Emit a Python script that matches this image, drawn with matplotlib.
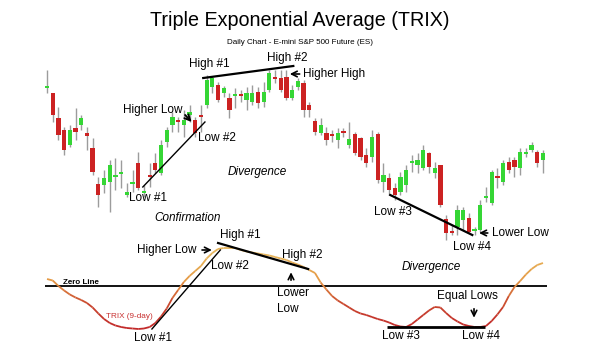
import numpy as np
import matplotlib
matplotlib.use("Agg")
import matplotlib.pyplot as plt
from matplotlib.collections import LineCollection
from matplotlib.colors import LinearSegmentedColormap

plt.rcParams['font.family'] = ['Liberation Sans', 'DejaVu Sans']

# ---------------- data ----------------
opens = [1162, 1157, 1132, 1120, 1105, 1122, 1125, 1117, 1102, 1066,
         1065, 1068, 1073, 1076, 1055, 1066, 1087, 1057, 1075, 1087,
         1077, 1108, 1125, 1130, 1125, 1135, 1130, 1135, 1145, 1163,
         1165, 1157, 1152, 1154, 1156, 1150, 1148, 1158, 1148, 1160,
         1173, 1172, 1173, 1152, 1163, 1167, 1145, 1129, 1117, 1117,
         1116, 1110, 1119, 1105, 1116, 1112, 1095, 1093, 1116, 1068,
         1072, 1062, 1058, 1065, 1087, 1085, 1082, 1097, 1077, 1085,
         1031, 1019, 1023, 1030, 1032, 1019, 1020, 1052, 1047, 1074,
         1068, 1088, 1090, 1082, 1096, 1100, 1098, 1090]
closes = [1164, 1135, 1115, 1100, 1120, 1118, 1132, 1114, 1078, 1055,
          1072, 1085, 1075, 1078, 1058, 1068, 1062, 1059, 1073, 1080,
          1105, 1120, 1133, 1128, 1130, 1138, 1117, 1133, 1170, 1172,
          1150, 1162, 1140, 1156, 1154, 1157, 1157, 1147, 1158, 1177,
          1171, 1160, 1152, 1160, 1169, 1140, 1140, 1118, 1125, 1110,
          1114, 1117, 1117, 1111, 1097, 1093, 1087, 1113, 1070, 1075,
          1060, 1055, 1073, 1080, 1089, 1090, 1100, 1083, 1082, 1045,
          1017, 1017, 1040, 1040, 1018, 1021, 1045, 1054, 1078, 1072,
          1087, 1080, 1083, 1098, 1098, 1105, 1087, 1097]
highs = [1180, 1157, 1143, 1123, 1125, 1142, 1135, 1123, 1112, 1073,
         1080, 1090, 1092, 1090, 1067, 1080, 1098, 1065, 1087, 1097,
         1110, 1123, 1138, 1133, 1140, 1145, 1133, 1145, 1175, 1174,
         1168, 1164, 1157, 1162, 1160, 1163, 1165, 1163, 1168, 1180,
         1180, 1180, 1180, 1165, 1172, 1170, 1148, 1132, 1132, 1123,
         1120, 1122, 1122, 1128, 1118, 1113, 1102, 1120, 1118, 1087,
         1077, 1067, 1078, 1085, 1095, 1097, 1105, 1098, 1088, 1085,
         1035, 1025, 1045, 1043, 1037, 1023, 1050, 1063, 1080, 1082,
         1090, 1093, 1093, 1102, 1102, 1108, 1100, 1100]
lows = [1157, 1128, 1110, 1095, 1103, 1110, 1120, 1100, 1075, 1043,
        1057, 1038, 1060, 1062, 1053, 1058, 1060, 1053, 1063, 1077,
        1075, 1103, 1118, 1118, 1113, 1128, 1113, 1118, 1142, 1157,
        1148, 1153, 1132, 1142, 1148, 1140, 1145, 1142, 1143, 1158,
        1167, 1158, 1150, 1150, 1160, 1133, 1133, 1115, 1115, 1105,
        1108, 1102, 1113, 1102, 1095, 1090, 1083, 1088, 1067, 1058,
        1055, 1050, 1055, 1058, 1078, 1077, 1080, 1077, 1072, 1043,
        1010, 1015, 1015, 1020, 1017, 1015, 1018, 1048, 1045, 1062,
        1065, 1077, 1073, 1075, 1093, 1098, 1083, 1077]
trix = [0.07, 0.055, 0.0, -0.045, -0.085, -0.115, -0.14, -0.17, -0.215, -0.275,
        -0.33, -0.37, -0.395, -0.41, -0.42, -0.425, -0.43, -0.425, -0.41, -0.37,
        -0.305, -0.225, -0.12, -0.04, 0.04, 0.10, 0.15, 0.20, 0.275, 0.33,
        0.37, 0.38, 0.38, 0.38, 0.36, 0.345, 0.335, 0.325, 0.315, 0.305,
        0.29, 0.275, 0.26, 0.235, 0.215, 0.19, 0.16, 0.13, 0.035, -0.035,
        -0.10, -0.145, -0.18, -0.215, -0.25, -0.275, -0.29, -0.31, -0.33, -0.345,
        -0.365, -0.39, -0.405, -0.41, -0.38, -0.335, -0.29, -0.245, -0.21, -0.215,
        -0.27, -0.32, -0.355, -0.385, -0.40, -0.41, -0.41, -0.40, -0.35, -0.285,
        -0.21, -0.10, -0.01, 0.05, 0.115, 0.17, 0.21, 0.23]

days = np.arange(len(opens))
o = np.array(opens); c = np.array(closes); h = np.array(highs); l = np.array(lows)
up = c >= o

GREEN = '#35d635'
RED = '#cc2222'
WICK = '#9c9c9c'

fig = plt.figure(figsize=(6.0, 3.56), dpi=100)
fig.patch.set_facecolor('white')

XLIM = (-8.25, 97.0)

# ---------------- price panel ----------------
ax = fig.add_axes([0, 0, 1, 1])
ax.set_xlim(*XLIM)
ax.set_ylim(894, 1250)
ax.axis('off')

ax.vlines(days, l, h, color=WICK, lw=1.0, zorder=1)
body_bottom = np.minimum(o, c)
body_h = np.maximum(np.abs(c - o), 1.5)
ax.bar(days, body_h, bottom=body_bottom, width=0.75,
       color=np.where(up, GREEN, RED), edgecolor='none', zorder=2)

fs = 8.5
# highs
ax.plot([27.4, 43.2], [1172, 1184], color='black', lw=1.6, zorder=3)
ax.text(28.4, 1186, 'High #1', ha='center', va='center', fontsize=fs)
ax.text(42.1, 1192, 'High #2', ha='center', va='center', fontsize=fs)
ax.annotate('', xy=(42.1, 1176), xytext=(44.8, 1176),
            arrowprops=dict(arrowstyle='->', color='black', lw=1.2))
ax.text(44.9, 1176, 'Higher High', ha='left', va='center', fontsize=fs)
# lows 1/2
ax.plot([16.8, 27.7], [1063, 1128], color='black', lw=1.0, zorder=3)
ax.text(23.7, 1140, 'Higher Low', ha='right', va='center', fontsize=fs)
ax.annotate('', xy=(25.7, 1126), xytext=(23.9, 1137),
            arrowprops=dict(arrowstyle='->', color='black', lw=1.4))
ax.text(26.5, 1112, 'Low #2', ha='left', va='center', fontsize=fs)
ax.text(17.7, 1052, 'Low #1', ha='center', va='center', fontsize=fs)
ax.text(24.7, 1032, 'Confirmation', ha='center', va='center', fontsize=fs,
        style='italic')
ax.text(36.8, 1078, 'Divergence', ha='center', va='center', fontsize=fs,
        style='italic')
# lows 3/4
ax.plot([60.2, 74.6], [1055, 1015], color='black', lw=1.6, zorder=3)
ax.text(60.7, 1038, 'Low #3', ha='center', va='center', fontsize=fs)
ax.text(74.6, 1003, 'Low #4', ha='center', va='center', fontsize=fs)
ax.annotate('', xy=(75.3, 1017), xytext=(77.8, 1017),
            arrowprops=dict(arrowstyle='->', color='black', lw=1.2))
ax.text(78.1, 1017, 'Lower Low', ha='left', va='center', fontsize=fs)

# ---------------- TRIX panel ----------------
ax2 = fig.add_axes([0, 0, 1, 1])
ax2.set_xlim(*XLIM)
ax2.set_ylim(-0.70, 2.86)
ax2.axis('off')
ax2.patch.set_alpha(0)

ax2.hlines(0, -0.35, 87.7, color='black', lw=1.3, zorder=2)

tv = np.array(trix)
pts = np.column_stack([days, tv]).reshape(-1, 1, 2)
segs = np.concatenate([pts[:-1], pts[1:]], axis=1)
cmap = LinearSegmentedColormap.from_list('trix', ['#c22a2a', '#c9472e', '#e59a45', '#e6b45a'])
lc = LineCollection(segs, cmap=cmap, norm=plt.Normalize(-0.42, 0.3), lw=1.3, zorder=3)
lc.set_array((tv[:-1] + tv[1:]) / 2)
ax2.add_collection(lc)

ax2.text(2.8, 0.04, 'Zero Line', ha='left', va='center', fontsize=5.8,
         fontweight='bold')
ax2.text(10.4, -0.30, 'TRIX (9-day)', ha='left', va='center', fontsize=5.9,
         color='#c83030')

ax2.plot([18.4, 30.4], [-0.43, 0.36], color='black', lw=1.0, zorder=4)
ax2.text(18.6, -0.52, 'Low #1', ha='center', va='center', fontsize=fs)
ax2.text(26.3, 0.36, 'Higher Low', ha='right', va='center', fontsize=fs)
ax2.annotate('', xy=(29.4, 0.36), xytext=(26.7, 0.36),
             arrowprops=dict(arrowstyle='->', color='black', lw=1.2))
ax2.plot([30.0, 45.8], [0.43, 0.17], color='black', lw=1.6, zorder=4)
ax2.text(33.9, 0.51, 'High #1', ha='center', va='center', fontsize=fs)
ax2.text(32.1, 0.20, 'Low #2', ha='center', va='center', fontsize=fs)
ax2.text(44.7, 0.31, 'High #2', ha='center', va='center', fontsize=fs)
ax2.annotate('', xy=(42.8, 0.165), xytext=(42.8, 0.03),
             arrowprops=dict(arrowstyle='->', color='black', lw=1.2))
ax2.text(40.4, -0.15, 'Lower\nLow', ha='left', va='center', fontsize=fs,
         linespacing=1.45)

ax2.text(67.4, 0.19, 'Divergence', ha='center', va='center', fontsize=fs,
         style='italic')
ax2.text(73.7, -0.10, 'Equal Lows', ha='center', va='center', fontsize=fs)
ax2.annotate('', xy=(74.9, -0.345), xytext=(74.9, -0.20),
             arrowprops=dict(arrowstyle='->', color='black', lw=1.2))
ax2.hlines(-0.41, 59.6, 76.8, color='black', lw=2.0, zorder=4)
ax2.text(62.1, -0.50, 'Low #3', ha='center', va='center', fontsize=fs)
ax2.text(76.1, -0.50, 'Low #4', ha='center', va='center', fontsize=fs)

# ---------------- titles ----------------
fig.text(0.5, 1 - 20 / 356, 'Triple Exponential Average (TRIX)', ha='center',
         va='center', fontsize=14.2)
fig.text(0.5, 1 - 42 / 356, 'Daily Chart - E-mini S&P 500 Future (ES)',
         ha='center', va='center', fontsize=5.8)

fig.savefig('out.png', dpi=100, facecolor='white')
